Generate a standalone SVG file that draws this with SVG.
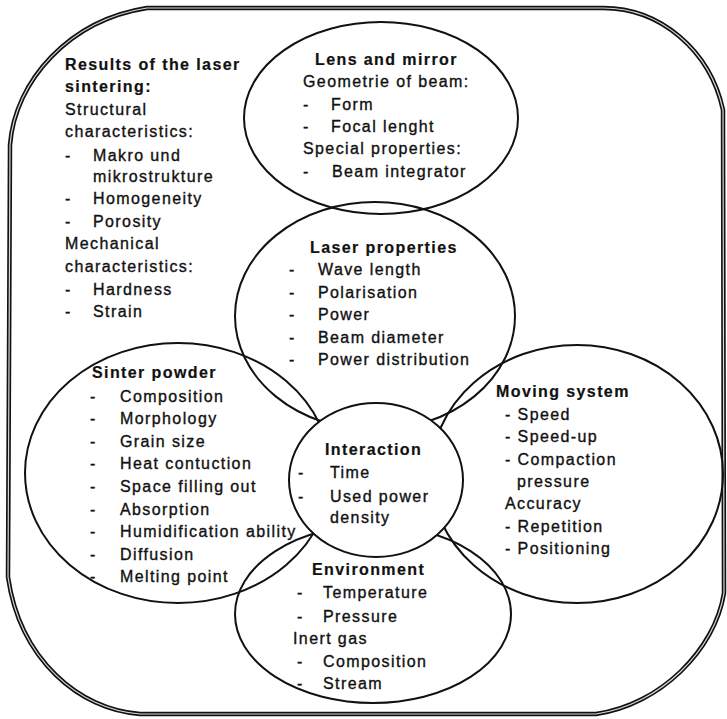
<svg xmlns="http://www.w3.org/2000/svg" width="727" height="719" viewBox="0 0 727 719">
<style>
  text { font-family: "Liberation Sans", Arial, sans-serif; font-size: 16px; fill: #111; stroke: #111; stroke-width: 0.35px; letter-spacing: 1.4px; }
  .b { font-weight: bold; stroke-width: 0.2px; }
  .shape { fill: none; stroke: #111; stroke-width: 2; }
  .front { fill: #ffffff; stroke: #111; stroke-width: 2; }
  .frame { fill: none; stroke: #111; stroke-width: 4.5; stroke-linejoin: round; }
  .frame-in { fill: none; stroke: #d8d8d8; stroke-width: 1.2; stroke-linejoin: round; }
</style>
<rect width="727" height="719" fill="#ffffff"/>

<g id="frame">
  <path class="frame" d="M147,8 L603,8 C660,8 710,50 723,110 L724,593 C715,650 660,705 596,714 L140,714 C80,710 20,660 8,577 L10,145 C15,80 70,20 147,8 Z"/>
  <path class="frame-in" d="M147,8 L603,8 C660,8 710,50 723,110 L724,593 C715,650 660,705 596,714 L140,714 C80,710 20,660 8,577 L10,145 C15,80 70,20 147,8 Z"/>
</g>

<g id="results">
  <text class="b" x="65" y="70">Results of the laser</text>
  <text class="b" x="65" y="92">sintering:</text>
  <text x="65" y="115">Structural</text>
  <text x="65" y="137">characteristics:</text>
  <text x="65" y="161">-</text><text x="93" y="161">Makro und</text>
  <text x="93" y="182">mikrostrukture</text>
  <text x="65" y="204">-</text><text x="93" y="204">Homogeneity</text>
  <text x="65" y="227">-</text><text x="93" y="227">Porosity</text>
  <text x="65" y="249">Mechanical</text>
  <text x="65" y="272">characteristics:</text>
  <text x="65" y="295">-</text><text x="93" y="295">Hardness</text>
  <text x="65" y="317">-</text><text x="93" y="317">Strain</text>
</g>

<g id="lens-and-mirror">
  <ellipse class="shape" cx="381" cy="118" rx="137" ry="96"/>
  <text class="b" x="315" y="65">Lens and mirror</text>
  <text x="303" y="87">Geometrie of beam:</text>
  <text x="303" y="110">-</text><text x="331" y="110">Form</text>
  <text x="303" y="132">-</text><text x="331" y="132">Focal lenght</text>
  <text x="303" y="154">Special properties:</text>
  <text x="303" y="177">-</text><text x="332" y="177">Beam integrator</text>
</g>

<g id="laser-properties">
  <ellipse class="shape" cx="375" cy="316" rx="140" ry="114"/>
  <text class="b" x="310" y="253">Laser properties</text>
  <text x="289" y="275">-</text><text x="318" y="275">Wave length</text>
  <text x="289" y="298">-</text><text x="318" y="298">Polarisation</text>
  <text x="289" y="320">-</text><text x="318" y="320">Power</text>
  <text x="289" y="343">-</text><text x="318" y="343">Beam diameter</text>
  <text x="289" y="365">-</text><text x="318" y="365">Power distribution</text>
</g>

<g id="sinter-powder">
  <ellipse class="shape" cx="178" cy="473" rx="153" ry="130"/>
  <text class="b" x="92" y="378">Sinter powder</text>
  <text x="90" y="402">-</text><text x="120" y="402">Composition</text>
  <text x="90" y="424">-</text><text x="120" y="424">Morphology</text>
  <text x="90" y="447">-</text><text x="120" y="447">Grain size</text>
  <text x="90" y="469">-</text><text x="120" y="469">Heat contuction</text>
  <text x="90" y="492">-</text><text x="120" y="492">Space filling out</text>
  <text x="90" y="515">-</text><text x="120" y="515">Absorption</text>
  <text x="90" y="537">-</text><text x="120" y="537">Humidification ability</text>
  <text x="90" y="560">-</text><text x="120" y="560">Diffusion</text>
  <text x="90" y="582">-</text><text x="120" y="582">Melting point</text>
</g>

<g id="moving-system">
  <ellipse class="shape" cx="577" cy="474" rx="146" ry="129"/>
  <text class="b" x="496" y="397">Moving system</text>
  <text x="505" y="420">- Speed</text>
  <text x="505" y="442">- Speed-up</text>
  <text x="505" y="465">- Compaction</text>
  <text x="517" y="487">pressure</text>
  <text x="505" y="509">Accuracy</text>
  <text x="505" y="532">- Repetition</text>
  <text x="505" y="554">- Positioning</text>
</g>

<g id="environment">
  <ellipse class="shape" cx="373" cy="614" rx="138" ry="89"/>
  <text class="b" x="312" y="575">Environment</text>
  <text x="297" y="598">-</text><text x="323" y="598">Temperature</text>
  <text x="297" y="622">-</text><text x="323" y="622">Pressure</text>
  <text x="293" y="644">Inert gas</text>
  <text x="297" y="667">-</text><text x="323" y="667">Composition</text>
  <text x="297" y="689">-</text><text x="323" y="689">Stream</text>
</g>

<g id="interaction">
  <ellipse class="front" cx="376" cy="480" rx="87" ry="77"/>
  <text class="b" x="325" y="455">Interaction</text>
  <text x="298" y="478">-</text><text x="330" y="478">Time</text>
  <text x="298" y="502">-</text><text x="330" y="502">Used power</text>
  <text x="330" y="523">density</text>
</g>
</svg>
